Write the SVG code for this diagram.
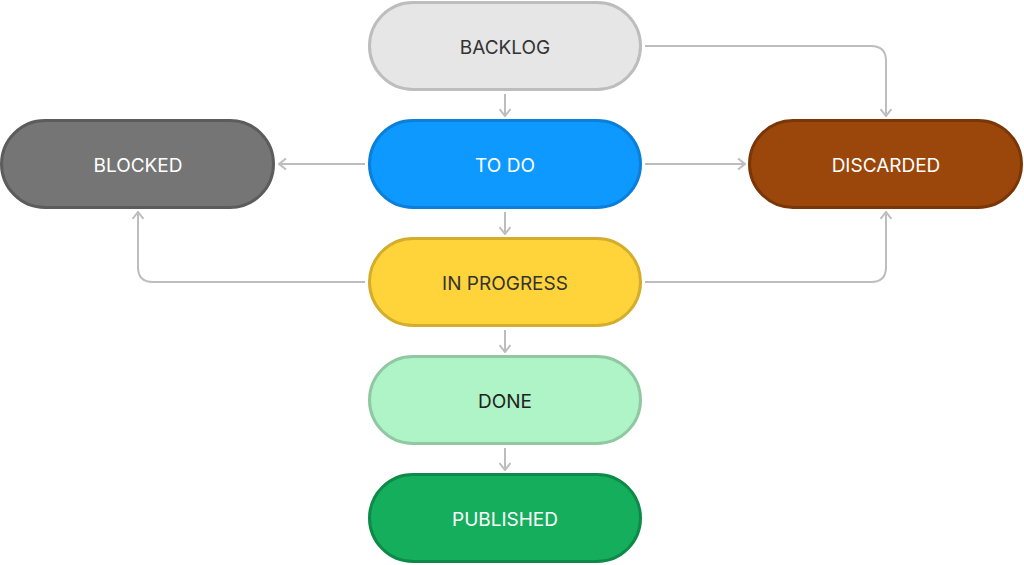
<svg xmlns="http://www.w3.org/2000/svg" width="1024" height="565" viewBox="0 0 1024 565">
<style>
.n{stroke-width:3}
.t{font-family:Inter,"Noto Sans",sans-serif;font-size:19px;text-anchor:middle;dominant-baseline:central}
.c{fill:none;stroke:#bdbdbd;stroke-width:2;marker-end:url(#a)}
</style>
<defs>
<marker id="a" viewBox="0 0 12 12" refX="11" refY="6" markerWidth="12" markerHeight="12" markerUnits="userSpaceOnUse" orient="auto">
<path d="M4,0.5 L11,6 L4,11.5" fill="none" stroke="#bdbdbd" stroke-width="2"/>
</marker>
</defs>
<rect width="1024" height="565" fill="#fff"/>
<g id="connectors">
<path class="c" d="M505,94 V116"/>
<path class="c" d="M505,212 V234"/>
<path class="c" d="M505,330 V352"/>
<path class="c" d="M505,448 V470"/>
<path class="c" d="M365,164 H279"/>
<path class="c" d="M645,164 H745"/>
<path class="c" d="M645,46 H871 Q886,46 886,61 V116"/>
<path class="c" d="M365,282 H153 Q138,282 138,267 V212"/>
<path class="c" d="M645,282 H871 Q886,282 886,267 V212"/>
</g>
<g id="backlog"><rect class="n" x="369.5" y="2.5" width="271" height="87" rx="43.5" fill="#e6e6e6" stroke="#bdbdbd"/><text class="t" x="505" y="47" fill="#333">BACKLOG</text></g>
<g id="todo"><rect class="n" x="369.5" y="120.5" width="271" height="87" rx="43.5" fill="#0d99ff" stroke="#0b7fd9"/><text class="t" x="505" y="165" fill="#fff">TO DO</text></g>
<g id="blocked"><rect class="n" x="1.5" y="120.5" width="272" height="87" rx="43.5" fill="#757575" stroke="#5c5c5c"/><text class="t" x="138" y="165" fill="#fff">BLOCKED</text></g>
<g id="discarded"><rect class="n" x="749.5" y="120.5" width="272" height="87" rx="43.5" fill="#9b460a" stroke="#7a3607"/><text class="t" x="886" y="165" fill="#fff">DISCARDED</text></g>
<g id="inprogress"><rect class="n" x="369.5" y="238.5" width="271" height="87" rx="43.5" fill="#ffd43a" stroke="#d4ad2c"/><text class="t" x="505" y="283" fill="#333">IN PROGRESS</text></g>
<g id="done"><rect class="n" x="369.5" y="356.5" width="271" height="87" rx="43.5" fill="#aff4c6" stroke="#90c8a2"/><text class="t" x="505" y="401" fill="#222">DONE</text></g>
<g id="published"><rect class="n" x="369.5" y="474.5" width="271" height="87" rx="43.5" fill="#14ae5c" stroke="#0e8a48"/><text class="t" x="505" y="519" fill="#fff">PUBLISHED</text></g>
</svg>
